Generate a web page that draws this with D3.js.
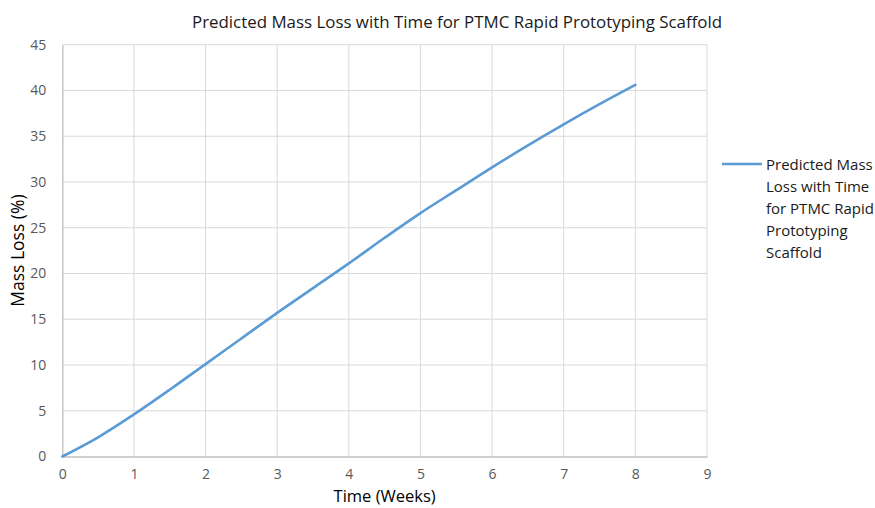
<!DOCTYPE html>
<html>
<head>
<meta charset="utf-8">
<script src="https://cdn.jsdelivr.net/npm/d3@7"></script>
<style>
  html, body { margin: 0; padding: 0; background: #fff; }
  svg { display: block; font-family: "Open Sans", "Noto Sans", sans-serif; }
</style>
</head>
<body>
<svg id="chart" width="875" height="508"></svg>
<script>
// Predicted mass loss (%) of the PTMC scaffold, sampled every half week
const weeks = [0, 0.5, 1, 1.5, 2, 2.5, 3, 3.5, 4, 4.5, 5, 5.5, 6, 6.5, 7, 7.5, 8];
const massLoss = [0, 2.1, 4.6, 7.3, 10.1, 12.9, 15.7, 18.4, 21.1, 23.9, 26.6, 29.1, 31.6, 34.0, 36.3, 38.5, 40.6];
const xTicks = [0, 1, 2, 3, 4, 5, 6, 7, 8, 9];
const yTicks = [0, 5, 10, 15, 20, 25, 30, 35, 40, 45];
const seriesName = "Predicted Mass Loss with Time for PTMC Rapid Prototyping Scaffold";
const legendLines = ["Predicted Mass", "Loss with Time", "for PTMC Rapid", "Prototyping", "Scaffold"];

const svg = d3.select("#chart");
const plot = { left: 62.3, right: 707, top: 44.7, bottom: 456.5 };

const x = d3.scaleLinear().domain([0, 9]).range([plot.left, plot.right]);
const y = d3.scaleLinear().domain([0, 45]).range([plot.bottom, plot.top]);

// gridlines
const grid = svg.append("g");
grid.selectAll("line.v").data(xTicks.slice(1)).join("line")
  .attr("x1", d => x(d)).attr("x2", d => x(d))
  .attr("y1", plot.top).attr("y2", plot.bottom)
  .attr("stroke", "#d9d9d9").attr("stroke-width", 1);
grid.selectAll("line.h").data(yTicks.slice(1)).join("line")
  .attr("x1", plot.left).attr("x2", plot.right)
  .attr("y1", d => y(d)).attr("y2", d => y(d))
  .attr("stroke", "#d9d9d9").attr("stroke-width", 1);

// axes (no tick marks, just the baseline and labels)
const xAxis = svg.append("g").attr("transform", `translate(0,${plot.bottom})`)
  .call(d3.axisBottom(x).tickValues(xTicks).tickSize(0).tickPadding(13).tickFormat(d3.format("d")));
const yAxis = svg.append("g").attr("transform", `translate(${plot.left},0)`)
  .call(d3.axisLeft(y).tickValues(yTicks).tickSize(0).tickPadding(16).tickFormat(d3.format("d")));
[xAxis, yAxis].forEach(a => {
  a.select(".domain").attr("stroke", "#bfbfbf").attr("stroke-width", 1.3);
  a.selectAll("text").attr("fill", "#595959").attr("font-size", 14)
    .attr("font-family", "'Open Sans', 'Noto Sans', sans-serif");
});

// series line
const line = d3.line().x((d, i) => x(weeks[i])).y(d => y(d)).curve(d3.curveCatmullRom.alpha(0.5));
svg.append("path").datum(massLoss)
  .attr("d", line)
  .attr("fill", "none")
  .attr("stroke", "#5b9bd5")
  .attr("stroke-width", 2.6)
  .attr("stroke-linecap", "round");

// title
svg.append("text")
  .attr("x", 457).attr("y", 28)
  .attr("text-anchor", "middle")
  .attr("font-size", 16).attr("fill", "#1a1a1a")
  .attr("textLength", 530).attr("lengthAdjust", "spacingAndGlyphs")
  .text(seriesName);

// axis titles
svg.append("text")
  .attr("x", (plot.left + plot.right) / 2).attr("y", 502)
  .attr("text-anchor", "middle")
  .attr("font-size", 16.5).attr("fill", "#000")
  .text("Time (Weeks)");
svg.append("text")
  .attr("transform", `translate(24,${(plot.top + plot.bottom) / 2}) rotate(-90)`)
  .attr("text-anchor", "middle")
  .attr("font-size", 17.5).attr("fill", "#000")
  .text("Mass Loss (%)");

// legend
const legend = svg.append("g");
legend.append("line")
  .attr("x1", 722).attr("x2", 762).attr("y1", 164).attr("y2", 164)
  .attr("stroke", "#5b9bd5").attr("stroke-width", 2.6);
legend.selectAll("text").data(legendLines).join("text")
  .attr("x", 766).attr("y", (d, i) => 170 + i * 22)
  .attr("font-size", 15).attr("fill", "#1a1a1a")
  .text(d => d);
</script>
</body>
</html>
